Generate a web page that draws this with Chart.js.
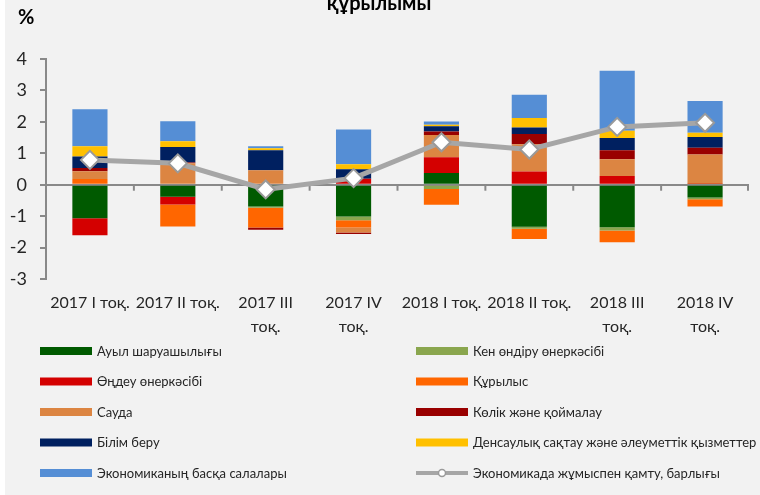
<!DOCTYPE html>
<html lang="kk"><head>
<meta charset="utf-8">
<title>Жұмыспен қамту құрылымы</title>
<style>
* { margin: 0; padding: 0 }
body { background: #fff; }
#Wrap {
    position: absolute; left: 0; top: 0;
    width: 760px; height: 495px;
    background: linear-gradient(to right, #fff 5px, #f2f2f2 5px);
}
</style>
<script src="https://cdn.jsdelivr.net/npm/chart.js@4"></script>
<script>

// quarters (multi-line where the original wraps)
const quarters = [
    "2017 I тоқ.", "2017 II тоқ.", ["2017 III", "тоқ."], ["2017 IV", "тоқ."],
    "2018 I тоқ.", "2018 II тоқ.", ["2018 III", "тоқ."], ["2018 IV", "тоқ."],
];

// contributions by sector, p.p.
const agriculture   = [-1.07, -0.38, -0.69, -1.01,  0.37, -1.34, -1.35, -0.41];
const mining        = [ 0.00,  0.00, -0.04, -0.12, -0.14, -0.06, -0.11, -0.05];
const manufacturing = [-0.54, -0.25,  0.00,  0.19,  0.50,  0.42,  0.28,  0.02];
const construction  = [ 0.18, -0.70, -0.63, -0.23, -0.50, -0.33, -0.37, -0.23];
const trade         = [ 0.25,  0.68,  0.46, -0.16,  0.71,  0.87,  0.53,  0.94];
const transport     = [ 0.10,  0.03, -0.07, -0.05,  0.11,  0.32,  0.29,  0.22];
const education     = [ 0.37,  0.49,  0.64,  0.30,  0.17,  0.21,  0.39,  0.34];
const health        = [ 0.32,  0.18,  0.06,  0.16,  0.05,  0.30,  0.23,  0.13];
const otherSectors  = [ 1.18,  0.64,  0.06,  1.11,  0.10,  0.74,  1.91,  1.01];

// total employment growth, %
const totalEmployment = [0.79, 0.68, -0.15, 0.21, 1.35, 1.12, 1.84, 1.97];

const yTicks = [-3, -2, -1, 0, 1, 2, 3, 4];

const AXIS_GREY = "#898989";
const TEXT = "#262626";
const FONT = "Lato, 'Open Sans', sans-serif";

function get(id) {
    return document.getElementById(id);
}

function barSet(label, data, color) {
    return {
        type: "bar",
        label: label,
        data: data,
        backgroundColor: color,
        borderWidth: 0,
        stack: "sectors",
        order: 1,
        barPercentage: 0.4,
        categoryPercentage: 1.0,
    };
}

// title fragment, "%" label, the small category ticks on the zero line, and the two-column legend
const extras = {
    id: "extras",
    beforeDatasetsDraw(chart) {
        const ctx = chart.ctx;
        const xs = chart.scales.x, ys = chart.scales.y;
        const zeroY = ys.getPixelForValue(0);
        ctx.save();
        ctx.strokeStyle = AXIS_GREY;
        ctx.lineWidth = 2;
        for (let i = 1; i <= quarters.length; i++) {
            let x = (i < quarters.length)
                ? (xs.getPixelForValue(i - 1) + xs.getPixelForValue(i)) / 2
                : chart.chartArea.right - 1;
            ctx.beginPath();
            ctx.moveTo(x, zeroY);
            ctx.lineTo(x, zeroY + 6);
            ctx.stroke();
        }
        ctx.restore();
    },
    afterDraw(chart) {
        const ctx = chart.ctx;
        ctx.save();
        ctx.fillStyle = "#000";
        ctx.font = "bold 20px " + FONT;
        ctx.textAlign = "center";
        ctx.textBaseline = "alphabetic";
        ctx.fillText("құрылымы", 379, 10);
        ctx.textAlign = "left";
        ctx.fillText("%", 18, 24);

        // legend, filled row by row in two columns
        const cols = [40, 416];
        const rowY = 351, rowStep = 30.5;
        ctx.font = "13px " + FONT;
        ctx.textBaseline = "middle";
        chart.data.datasets.forEach(function(ds, i) {
            const x = cols[i % 2];
            const y = rowY + Math.floor(i / 2) * rowStep;
            if (ds.type === "bar") {
                ctx.fillStyle = ds.backgroundColor;
                ctx.fillRect(x, y - 4, 52, 8);
            } else {
                ctx.strokeStyle = ds.borderColor;
                ctx.lineWidth = 4;
                ctx.beginPath();
                ctx.moveTo(x, y);
                ctx.lineTo(x + 52, y);
                ctx.stroke();
                ctx.fillStyle = "#fff";
                ctx.strokeStyle = ds.pointBorderColor;
                ctx.lineWidth = 1.5;
                ctx.beginPath();
                ctx.arc(x + 26, y, 3.5, 0, Math.PI * 2);
                ctx.fill();
                ctx.stroke();
            }
            ctx.fillStyle = TEXT;
            ctx.fillText(ds.label, x + 57, y + 0.5);
        });
        ctx.restore();
    },
};

function bodyOnLoad() {
    new Chart(get("EmploymentChart"), {
        data: {
            labels: quarters,
            datasets: [
                barSet("Ауыл шаруашылығы", agriculture, "#005a00"),
                barSet("Кен өндіру өнеркәсібі", mining, "#8aa64e"),
                barSet("Өңдеу өнеркәсібі", manufacturing, "#d40000"),
                barSet("Құрылыс", construction, "#ff6600"),
                barSet("Сауда", trade, "#dc8542"),
                barSet("Көлік және қоймалау", transport, "#990000"),
                barSet("Білім беру", education, "#002060"),
                barSet("Денсаулық сақтау және әлеуметтік қызметтер", health, "#ffc000"),
                barSet("Экономиканың басқа салалары", otherSectors, "#558ed5"),
            {
                type: "line",
                label: "Экономикада жұмыспен қамту, барлығы",
                data: totalEmployment,
                stack: "total",
                order: 0,
                borderColor: "#a6a6a6",
                borderWidth: 5,
                pointStyle: "rectRot",
                pointRadius: 9,
                pointBackgroundColor: "#fff",
                pointBorderColor: "#9a9a9a",
                pointBorderWidth: 2,
                tension: 0,
            }],
        },
        options: {
            responsive: false,
            animation: false,
            layout: { padding: { top: 59, bottom: 156, left: 0, right: 0 } },
            plugins: {
                legend: { display: false },
                tooltip: { enabled: false },
                title: { display: false },
            },
            scales: {
                x: {
                    stacked: true,
                    offset: true,
                    border: { display: false },
                    grid: { display: false, drawTicks: false },
                    afterFit: function(s) { s.height = 60; },
                    ticks: {
                        autoSkip: false,
                        maxRotation: 0,
                        minRotation: 0,
                        padding: 12,
                        color: TEXT,
                        font: { family: FONT, size: 16, lineHeight: 1.5 },
                    },
                },
                y: {
                    stacked: true,
                    min: yTicks[0],
                    max: yTicks[yTicks.length - 1],
                    afterFit: function(s) { s.width = 46; },
                    afterBuildTicks: function(s) {
                        s.ticks = yTicks.map(function(v) { return { value: v }; });
                    },
                    border: { display: true, color: AXIS_GREY, width: 2 },
                    grid: {
                        color: function(c) { return c.tick && c.tick.value === 0 ? AXIS_GREY : "rgba(0,0,0,0)"; },
                        lineWidth: 2,
                        tickColor: AXIS_GREY,
                        tickLength: 6,
                    },
                    ticks: {
                        padding: 13,
                        color: TEXT,
                        font: { family: FONT, size: 18 },
                    },
                },
            },
        },
        plugins: [extras],
    });
}

</script>
</head><body onload="bodyOnLoad()">
<div id="Wrap">
  <canvas id="EmploymentChart" width="760" height="495"></canvas>
</div>
</body></html>
